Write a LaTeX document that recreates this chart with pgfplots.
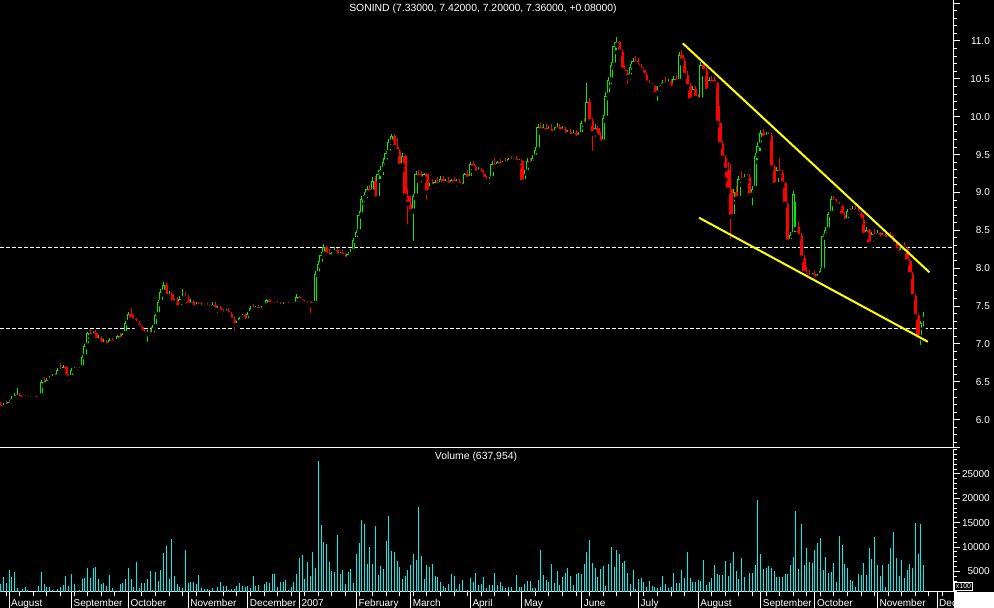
\documentclass[border=0pt]{standalone}
\usepackage{pgfplots}
\pgfplotsset{compat=1.18}
\usepackage{pgfplotstable}
\usepackage{fontspec}
\setmainfont{Liberation Sans}

\definecolor{cgreen}{RGB}{0,235,0}
\definecolor{cred}{RGB}{255,0,0}
\definecolor{ccyan}{RGB}{0,240,240}
\definecolor{cyell}{RGB}{255,255,0}

% d = trading day (0 = 1 Aug 2006), o h l c = price, v = volume (x100)
\pgfplotstableread{
d o h l c v
-3 6.20 6.24 6.12 6.15 2440
-2 6.15 6.22 6.10 6.20 3880
-1 6.20 6.25 6.13 6.18 2650
0 6.18 6.26 6.15 6.23 5320
1 6.23 6.32 6.20 6.28 3880
2 6.28 6.35 6.25 6.30 4910
3 6.30 6.42 6.28 6.33 1620
4 6.33 6.35 6.26 6.28 1070
5 6.28 6.32 6.26 6.30 1490
6 6.30 6.33 6.27 6.29 1900
7 6.29 6.31 6.26 6.28 1280
8 6.28 6.32 6.27 6.30 900
9 6.30 6.33 6.28 6.31 850
10 6.31 6.32 6.26 6.27 950
11 6.27 6.32 6.25 6.31 2030
12 6.31 6.52 6.30 6.50 4910
13 6.50 6.56 6.44 6.46 2440
14 6.46 6.55 6.45 6.53 1830
15 6.53 6.58 6.50 6.55 1830
16 6.55 6.60 6.52 6.57 1210
17 6.57 6.62 6.53 6.56 1070
18 6.56 6.68 6.55 6.66 1490
19 6.66 6.75 6.62 6.64 1900
20 6.64 6.72 6.60 6.70 2240
21 6.70 6.71 6.55 6.57 4090
22 6.57 6.60 6.48 6.55 2100
23 6.55 6.68 6.54 6.66 4500
24 6.66 6.70 6.63 6.68 2440
25 6.68 6.70 6.64 6.66 1070
26 6.66 6.70 6.64 6.68 1210
27 6.68 6.85 6.67 6.83 3470
28 6.83 7.00 6.82 6.97 3680
29 6.97 7.16 6.95 7.14 5730
30 7.14 7.20 7.05 7.10 3680
31 7.10 7.17 7.06 7.15 5730
32 7.15 7.18 7.02 7.05 5940
33 7.05 7.12 7.02 7.08 3470
34 7.08 7.10 6.98 7.00 2440
35 7.00 7.06 6.96 7.03 2650
36 7.03 7.05 6.95 6.98 2030
37 6.98 7.08 6.96 7.05 4290
38 7.05 7.08 6.99 7.02 1620
39 7.02 7.05 6.98 7.03 1070
40 7.03 7.12 7.00 7.10 1070
41 7.10 7.14 7.03 7.06 2440
42 7.06 7.15 7.04 7.13 2650
43 7.13 7.30 7.12 7.28 3470
44 7.28 7.42 7.26 7.40 5730
45 7.40 7.47 7.30 7.33 3470
46 7.33 7.38 7.26 7.30 1830
47 7.30 7.34 7.22 7.27 6970
48 7.27 7.30 7.20 7.22 1620
49 7.22 7.25 7.14 7.16 2650
50 7.16 7.20 7.10 7.13 2650
51 7.13 7.18 7.00 7.15 3470
52 7.15 7.20 7.08 7.12 5120
53 7.12 7.25 7.10 7.22 1210
54 7.22 7.40 7.20 7.38 4910
55 7.38 7.58 7.35 7.55 3060
56 7.55 7.72 7.52 7.68 5320
57 7.68 7.82 7.65 7.78 8810
58 7.78 7.80 7.60 7.63 10250
59 7.63 7.70 7.58 7.66 3470
60 7.66 7.68 7.52 7.55 11690
61 7.55 7.60 7.50 7.57 4090
62 7.57 7.62 7.44 7.48 2440
63 7.48 7.63 7.45 7.60 1830
64 7.60 7.72 7.55 7.62 1620
65 7.62 7.68 7.58 7.60 9430
66 7.60 7.65 7.50 7.52 2650
67 7.52 7.60 7.48 7.55 2860
68 7.55 7.58 7.46 7.48 2860
69 7.48 7.55 7.44 7.52 2440
70 7.52 7.56 7.46 7.50 4290
71 7.50 7.55 7.42 7.48 1620
72 7.48 7.52 7.44 7.50 1420
73 7.50 7.54 7.46 7.49 1420
74 7.49 7.52 7.40 7.47 1210
75 7.47 7.55 7.45 7.52 1620
76 7.52 7.55 7.42 7.45 1000
77 7.45 7.50 7.38 7.47 1830
78 7.47 7.50 7.40 7.42 2860
79 7.42 7.46 7.36 7.40 2030
80 7.40 7.46 7.38 7.44 2030
81 7.44 7.47 7.37 7.39 1210
82 7.39 7.42 7.30 7.32 1420
83 7.32 7.36 7.16 7.25 1420
84 7.25 7.30 7.20 7.28 2030
85 7.28 7.36 7.25 7.34 2650
86 7.34 7.40 7.32 7.38 2030
87 7.38 7.40 7.28 7.30 1830
88 7.30 7.42 7.28 7.40 2030
89 7.40 7.50 7.38 7.48 1620
90 7.48 7.53 7.44 7.46 4090
91 7.46 7.50 7.42 7.49 2030
92 7.49 7.52 7.40 7.45 2240
93 7.45 7.50 7.40 7.48 1000
94 7.48 7.52 7.44 7.50 2440
95 7.50 7.60 7.48 7.58 2860
96 7.58 7.60 7.50 7.53 2650
97 7.53 7.56 7.48 7.52 4500
98 7.52 7.55 7.49 7.54 4500
99 7.54 7.57 7.50 7.52 1830
100 7.52 7.55 7.47 7.50 2860
101 7.50 7.55 7.48 7.53 2860
102 7.53 7.56 7.50 7.52 3270
103 7.52 7.55 7.49 7.51 1210
104 7.51 7.54 7.48 7.53 1830
105 7.53 7.56 7.50 7.52 2860
106 7.52 7.66 7.51 7.62 4500
107 7.62 7.64 7.54 7.58 7790
108 7.58 7.60 7.52 7.55 8400
109 7.55 7.58 7.50 7.53 3470
110 7.53 7.57 7.50 7.55 6970
111 7.55 7.57 7.38 7.52 4090
112 7.52 7.55 7.48 7.53 9020
113 7.53 7.96 7.52 7.92 5730
114 7.92 8.10 7.90 8.05 27720
115 8.05 8.22 8.02 8.18 14570
116 8.18 8.32 8.15 8.28 11080
117 8.28 8.30 8.12 8.18 10660
118 8.18 8.25 8.10 8.15 6970
119 8.15 8.22 8.10 8.20 5120
120 8.20 8.28 8.16 8.24 4910
121 8.24 8.27 8.15 8.17 12510
122 8.17 8.22 8.12 8.20 4500
123 8.20 8.24 8.14 8.16 5320
124 8.16 8.20 8.08 8.12 2440
125 8.12 8.22 8.10 8.19 4910
126 8.19 8.26 8.16 8.22 5530
127 8.22 8.40 8.20 8.37 2650
128 8.37 8.50 8.35 8.48 8610
129 8.48 8.75 8.45 8.70 10870
130 8.70 8.95 8.68 8.92 15600
131 8.92 9.00 8.85 8.97 14770
132 8.97 9.08 8.90 9.04 6550
133 9.04 9.10 8.95 9.00 10050
134 9.00 9.20 8.98 9.15 6550
135 9.15 9.22 8.86 8.92 14360
136 8.92 9.30 8.90 9.25 4290
137 9.25 9.35 9.15 9.30 6140
138 9.30 9.45 9.20 9.40 5530
139 9.40 9.55 9.35 9.52 11280
140 9.52 9.70 9.48 9.66 16420
141 9.66 9.77 9.60 9.75 9230
142 9.75 9.77 9.55 9.60 9020
143 9.60 9.72 9.50 9.55 7170
144 9.55 9.58 9.30 9.35 5940
145 9.35 9.52 9.30 9.48 3470
146 9.48 9.50 8.92 8.96 4090
147 8.96 9.05 8.55 8.85 5320
148 8.85 8.95 8.70 8.75 6350
149 8.75 8.98 8.33 8.95 8610
150 8.95 9.28 8.92 9.25 7380
151 9.25 9.30 9.15 9.20 18270
152 9.20 9.28 9.10 9.18 8200
153 9.18 9.26 9.15 9.24 3470
154 9.24 9.26 8.88 9.00 6350
155 9.00 9.12 8.98 9.10 5940
156 9.10 9.18 9.05 9.08 6550
157 9.08 9.16 9.02 9.14 4090
158 9.14 9.20 9.06 9.10 3880
159 9.10 9.22 9.05 9.18 2860
160 9.18 9.22 9.08 9.12 2030
161 9.12 9.18 9.06 9.15 1620
162 9.15 9.20 9.08 9.10 2440
163 9.10 9.18 9.06 9.16 4500
164 9.16 9.20 9.08 9.12 4090
165 9.12 9.18 9.05 9.14 1420
166 9.14 9.18 9.08 9.10 2440
167 9.10 9.14 9.05 9.08 3270
168 9.08 9.26 9.06 9.24 900
169 9.24 9.30 9.14 9.18 1210
170 9.18 9.40 9.16 9.38 3680
171 9.38 9.42 9.28 9.33 2860
172 9.33 9.36 9.24 9.26 4700
173 9.26 9.34 9.20 9.30 2240
174 9.30 9.32 9.22 9.25 2440
175 9.25 9.30 9.12 9.18 3880
176 9.18 9.22 9.10 9.15 1620
177 9.15 9.20 9.08 9.18 2240
178 9.18 9.42 9.16 9.38 2240
179 9.38 9.46 9.30 9.34 4700
180 9.34 9.42 9.30 9.40 2240
181 9.40 9.44 9.32 9.36 2860
182 9.36 9.42 9.32 9.40 2030
183 9.40 9.45 9.35 9.38 1620
184 9.38 9.46 9.36 9.44 1830
185 9.44 9.48 9.38 9.42 1830
186 9.42 9.46 9.38 9.44 900
187 9.44 9.48 9.36 9.40 4290
188 9.40 9.44 9.34 9.42 1830
189 9.42 9.44 9.10 9.14 1830
190 9.14 9.30 9.10 9.26 2440
191 9.26 9.45 9.24 9.42 3060
192 9.42 9.46 9.35 9.38 3060
193 9.38 9.50 9.36 9.46 1620
194 9.46 9.60 9.44 9.56 1620
195 9.56 9.90 9.54 9.86 3270
196 9.86 9.92 9.78 9.82 9430
197 9.82 9.90 9.76 9.85 4290
198 9.85 9.90 9.78 9.80 3270
199 9.80 9.88 9.74 9.84 2860
200 9.84 9.90 9.76 9.78 6550
201 9.78 9.86 9.72 9.82 2650
202 9.82 9.92 9.78 9.86 5120
203 9.86 9.90 9.78 9.80 2240
204 9.80 9.88 9.76 9.84 3880
205 9.84 9.86 9.72 9.76 4700
206 9.76 9.82 9.70 9.80 5730
207 9.80 9.84 9.72 9.74 4090
208 9.74 9.82 9.70 9.78 2240
209 9.78 9.82 9.68 9.72 4500
210 9.72 9.80 9.66 9.76 4700
211 9.76 9.95 9.74 9.92 4500
212 9.92 9.98 9.85 9.90 6550
213 9.90 10.45 9.88 10.20 9020
214 10.20 10.25 9.90 9.94 11490
215 9.94 9.98 9.52 9.78 6760
216 9.78 9.90 9.70 9.85 5730
217 9.85 9.88 9.70 9.74 3880
218 9.74 9.80 9.60 9.66 5530
219 9.66 10.02 9.62 9.98 6140
220 9.98 10.32 9.94 10.28 2030
221 10.28 10.52 10.24 10.48 6550
222 10.48 10.72 10.40 10.68 10050
223 10.68 10.98 10.64 10.94 5940
224 10.94 11.05 10.85 10.98 9430
225 10.98 11.00 10.82 10.86 8610
226 10.86 10.90 10.58 10.62 6760
227 10.62 10.68 10.52 10.58 7170
228 10.58 10.62 10.40 10.52 4700
229 10.52 10.70 10.45 10.66 2440
230 10.66 10.78 10.60 10.74 5320
231 10.74 10.80 10.66 10.70 1420
232 10.70 10.78 10.62 10.66 3470
233 10.66 10.70 10.58 10.62 3680
234 10.62 10.64 10.50 10.55 2860
235 10.55 10.58 10.42 10.45 1830
236 10.45 10.48 10.38 10.42 3060
237 10.42 10.44 10.36 10.40 2030
238 10.40 10.42 10.28 10.30 1830
239 10.30 10.40 10.18 10.36 1620
240 10.36 10.42 10.30 10.40 1830
241 10.40 10.48 10.36 10.45 4090
242 10.45 10.52 10.38 10.42 2440
243 10.42 10.50 10.36 10.46 1620
244 10.46 10.50 10.34 10.38 1830
245 10.38 10.54 10.35 10.50 4700
246 10.50 10.55 10.42 10.46 2650
247 10.46 10.86 10.44 10.82 2650
248 10.82 10.88 10.70 10.74 5320
249 10.74 10.78 10.52 10.55 3680
250 10.55 10.60 10.36 10.40 9020
251 10.40 10.44 10.18 10.22 3680
252 10.22 10.40 10.16 10.36 2860
253 10.36 10.40 10.20 10.25 2860
254 10.25 10.30 10.18 10.22 3270
255 10.22 10.72 10.20 10.68 3060
256 10.68 10.74 10.56 10.60 7380
257 10.60 10.64 10.30 10.34 2240
258 10.34 10.52 10.30 10.48 2860
259 10.48 10.54 10.40 10.44 3680
260 10.48 10.52 10.40 10.44 6350
261 10.44 10.46 9.88 9.92 4500
262 9.92 10.14 9.60 9.64 4290
263 9.64 9.68 9.42 9.46 4290
264 9.46 9.50 9.17 9.30 7170
265 9.30 9.40 9.00 9.04 4090
266 9.04 9.38 8.36 8.68 6760
267 8.68 9.05 8.62 9.00 9020
268 9.00 9.08 8.86 8.92 5120
269 8.92 9.22 8.90 9.18 3470
270 9.18 9.28 9.10 9.16 7790
271 9.16 9.24 9.12 9.21 3880
272 9.21 9.24 9.14 9.20 1000
273 9.20 9.24 8.92 8.96 4700
274 8.96 9.08 8.80 9.05 4700
275 9.05 9.52 9.02 9.48 6350
276 9.48 9.66 9.40 9.62 19710
277 9.62 9.82 9.52 9.78 8610
278 9.78 9.84 9.70 9.72 5530
279 9.72 9.80 9.68 9.76 5730
280 9.76 9.80 9.70 9.74 6140
281 9.74 9.78 9.30 9.33 5730
282 9.33 9.36 9.05 9.10 5120
283 9.10 9.34 9.06 9.30 3880
284 9.30 9.45 9.22 9.26 3880
285 9.26 9.30 9.08 9.12 3880
286 9.12 9.14 8.82 8.85 4500
287 8.85 8.88 8.32 8.35 4500
288 8.35 8.48 8.30 8.44 6350
289 8.44 9.02 8.42 8.98 7990
290 8.52 8.88 8.45 8.55 17450
291 8.55 8.62 8.38 8.42 5530
292 8.42 8.46 8.10 8.14 14770
293 8.14 8.18 7.90 7.94 6350
294 7.94 8.02 7.86 7.90 9840
295 7.90 7.98 7.85 7.88 6970
296 7.88 7.94 7.84 7.92 6760
297 7.92 7.96 7.84 7.86 9430
298 7.86 7.92 7.83 7.90 10870
299 7.90 8.00 7.86 7.97 11900
300 7.97 8.45 7.95 8.42 5320
301 8.42 8.54 8.40 8.50 7990
302 8.50 8.74 8.48 8.72 4700
303 8.72 8.95 8.70 8.92 4910
304 8.92 8.96 8.84 8.88 6760
305 8.88 8.92 8.80 8.84 2860
306 8.84 8.88 8.78 8.82 12310
307 8.82 8.84 8.66 8.70 10460
308 8.70 8.74 8.56 8.62 6550
309 8.62 8.78 8.60 8.76 5730
310 8.76 8.80 8.70 8.74 3270
311 8.74 8.82 8.72 8.78 3060
312 8.78 8.82 8.72 8.75 1830
313 8.75 8.80 8.68 8.72 4500
314 8.72 8.74 8.60 8.64 4290
315 8.64 8.70 8.40 8.44 6760
316 8.44 8.54 8.40 8.50 4290
317 8.50 8.52 8.28 8.32 9840
318 8.32 8.48 8.30 8.45 7580
319 8.45 8.52 8.38 8.42 12100
320 8.42 8.50 8.36 8.46 6350
321 8.46 8.48 8.36 8.40 4090
322 8.40 8.46 8.36 8.44 6350
323 8.44 8.46 8.34 8.38 1830
324 8.38 8.44 8.34 8.42 6550
325 8.42 8.48 8.36 8.40 9840
326 8.40 8.44 8.28 8.32 13130
327 8.32 8.36 8.20 8.24 7790
328 8.24 8.28 8.16 8.20 4090
329 8.20 8.30 8.18 8.28 7380
330 8.28 8.34 8.22 8.26 3680
331 8.26 8.28 8.06 8.09 5320
332 8.09 8.12 7.88 7.92 6550
333 7.92 7.95 7.60 7.63 5730
334 7.63 7.66 7.34 7.37 14980
335 7.37 7.40 7.04 7.08 8610
336 7.08 7.30 6.96 7.28 14770
337 7.33 7.42 7.20 7.36 6380
}\prices

\pgfplotsset{
  panel/.style={
    anchor=south west, scale only axis, width=953pt,
    xmin=-3.317, xmax=347.89,
    axis line style={-, white, line width=1pt},
    tick align=outside, major tick length=7pt, minor tick length=4pt,
    tick style={white, line width=1pt},
    yticklabel style={anchor=east, inner sep=0pt, xshift=30pt, text=white,
      font=\fontsize{10}{12}\selectfont},
    /pgf/number format/assume math mode=true,
  },
  candle/.style 2 args={only marks, mark=none, forget plot,
    error bars/.cd, y dir=plus, y explicit, error mark=none,
    error bar style={line width=#1, #2}},
}

\begin{document}
\begin{tikzpicture}
\fill[black] (0pt,0pt) rectangle (994pt,608pt);

% price panel
\begin{axis}[panel,
  at={(0pt,160pt)}, height=448pt,
  ymin=5.627, ymax=11.541,
  axis x line=none, axis y line*=right, xtick=\empty,
  ytick={6,6.5,...,11}, minor ytick={5.7,5.8,...,11.5},
  extra y ticks={11.5}, extra y tick labels={},
  /pgf/number format/fixed, /pgf/number format/fixed zerofill,
  /pgf/number format/precision=1,
]
\addplot[white, line width=1pt, dash pattern=on 4pt off 2pt, forget plot]
  coordinates {(-3.317,8.28) (347.89,8.28)};
\addplot[white, line width=1pt, dash pattern=on 4pt off 2pt, forget plot]
  coordinates {(-3.317,7.21) (347.89,7.21)};

% wicks
\addplot[candle={1pt}{cgreen}]
  table[x=d, y expr={(\thisrow{c}>=\thisrow{o}) ? \thisrow{l} : nan},
        y error expr={\thisrow{h}-\thisrow{l}}] {\prices};
\addplot[candle={1pt}{cred}]
  table[x=d, y expr={(\thisrow{c}<\thisrow{o}) ? \thisrow{l} : nan},
        y error expr={\thisrow{h}-\thisrow{l}}] {\prices};
% up bodies, hollow
\addplot[candle={3.4pt}{cgreen}]
  table[x=d, y expr={(\thisrow{c}>=\thisrow{o}) ? \thisrow{o} : nan},
        y error expr={max(\thisrow{c}-\thisrow{o},0.014)}] {\prices};
\addplot[candle={1.4pt}{black}]
  table[x=d, y expr={(\thisrow{c}-\thisrow{o}>0.035) ? \thisrow{o}+0.0132 : nan},
        y error expr={\thisrow{c}-\thisrow{o}-0.0264}] {\prices};
% down bodies, filled
\addplot[candle={3.4pt}{cred}]
  table[x=d, y expr={(\thisrow{c}<\thisrow{o}) ? \thisrow{c} : nan},
        y error expr={max(\thisrow{o}-\thisrow{c},0.014)}] {\prices};
\end{axis}

% trend channel, on top of the candles
\begin{axis}[at={(0pt,160pt)}, anchor=south west, scale only axis,
  width=953pt, height=448pt, hide axis,
  xmin=-3.317, xmax=347.89, ymin=5.627, ymax=11.541]
\addplot[cyell, line width=2pt] coordinates {(248.3,10.969) (339.2,7.946)};
\addplot[cyell, line width=2pt] coordinates {(254.3,8.667) (338.6,7.030)};
\end{axis}

% volume panel
\begin{axis}[panel,
  at={(0pt,16pt)}, height=143pt,
  ymin=800, ymax=30100,
  axis x line*=bottom, axis y line*=right,
  scaled y ticks=false,
  ytick={5000,10000,...,25000}, minor ytick={1000,2000,...,30000},
  xtick={0,23,44,66,88,107,128,148,170,189,211,232,254,277,297,320,342},
  xticklabels={August,September,October,November,December,2007,February,March,April,May,June,July,August,September,October,November,December},
  minor xtick={-1,4,...,346},
  xticklabel style={anchor=north west, inner sep=0pt, xshift=2pt, yshift=0pt,
    text=white, font=\fontsize{10}{12}\selectfont},
  /pgf/number format/1000 sep={},
  after end axis/.code={
    \foreach \m in {0,23,44,66,88,107,128,148,170,189,211,232,254,277,297,320,342}
      {\draw[white, line width=1pt] (axis cs:\m,800) -- ++(0pt,-16pt);}
  },
]
\addplot[ycomb, ccyan, line width=1pt, mark=none] table[x=d, y=v] {\prices};
\end{axis}

\draw[white, line width=1pt] (0pt,160pt) -- (960pt,160pt);
\fill[white] (953.5pt,0pt) rectangle (994pt,16pt);
\node[draw=white, line width=0.8pt, fill=black, text=white, inner sep=1.3pt,
  font=\fontsize{7}{8}\selectfont] at (963.5pt,21.5pt) {x100};
\node[text=white, font=\fontsize{10.4}{12}\selectfont] at (483pt,599pt)
  {SONIND (7.33000, 7.42000, 7.20000, 7.36000, +0.08000)};
\node[text=white, font=\fontsize{10.4}{12}\selectfont] at (476pt,151pt)
  {Volume (637,954)};

\pgfresetboundingbox
\path[use as bounding box] (0pt,0pt) rectangle (994pt,608pt);
\end{tikzpicture}
\end{document}
